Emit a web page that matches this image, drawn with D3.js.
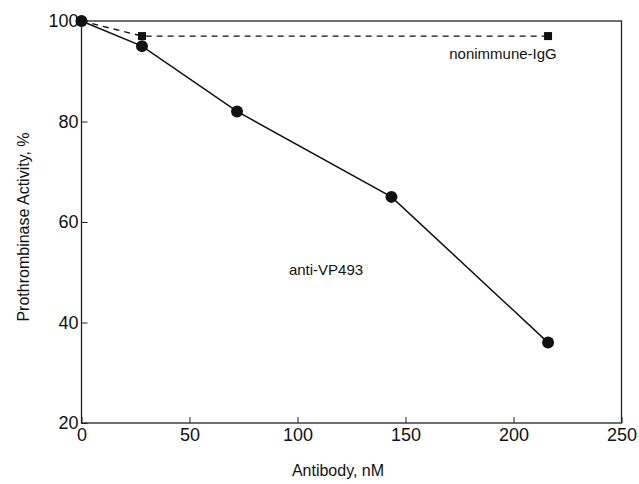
<!DOCTYPE html>
<html>
<head>
<meta charset="utf-8">
<script src="https://cdn.jsdelivr.net/npm/d3@7"></script>
<style>
  body { margin: 0; background: #fff; }
  svg { display: block; }
  text { font-family: "Liberation Sans", Arial, sans-serif; fill: #111; }
</style>
</head>
<body>
<svg id="chart" width="639" height="484"></svg>
<script>
// =======================
//  Data
// =======================

var antiDose = [0, 28, 72, 143.5, 216];
var antiActivity = [100, 95, 82, 65, 36];

var igDose = [0, 28, 216];
var igActivity = [100, 97, 97];

var xTicks = [0, 50, 100, 150, 200, 250];
var yTicks = [20, 40, 60, 80, 100];

// =======================
//  Layout
// =======================

var svg = d3.select("#chart");
// plot frame edges (window.top is reserved, so use own names)
var plotL = 81.5, plotR = 621.5, plotT = 21, plotB = 423;

var x = d3.scaleLinear().domain([0, 250]).range([plotL, plotR]);
var y = d3.scaleLinear().domain([20, 100]).range([plotB, plotT]);

// frame
svg.append("rect")
    .attr("x", plotL).attr("y", plotT)
    .attr("width", plotR - plotL).attr("height", plotB - plotT)
    .style("fill", "none").style("stroke", "#222").style("stroke-width", 1.3);

// axes with inward ticks
var xAxis = svg.append("g")
    .attr("transform", "translate(0," + plotB + ")")
    .call(d3.axisBottom(x).tickValues(xTicks).tickSizeInner(-6).tickSizeOuter(0).tickPadding(5));
xAxis.select(".domain").remove();
xAxis.selectAll("line").style("stroke", "#222");
xAxis.selectAll("text").style("font-size", "18px").style("fill", "#111")
    .attr("font-family", null);

var yAxis = svg.append("g")
    .attr("transform", "translate(" + plotL + ",0)")
    .call(d3.axisLeft(y).tickValues(yTicks).tickSizeInner(-6).tickSizeOuter(0).tickPadding(3));
yAxis.select(".domain").remove();
yAxis.selectAll("line").style("stroke", "#222");
yAxis.selectAll("text").style("font-size", "18px").style("fill", "#111")
    .attr("font-family", null);

// axis titles
svg.append("text")
    .attr("x", 338).attr("y", 476)
    .style("text-anchor", "middle").style("font-size", "16px")
    .text("Antibody, nM");

svg.append("text")
    .attr("transform", "translate(29,227) rotate(-90)")
    .style("text-anchor", "middle").style("font-size", "16px")
    .text("Prothrombinase Activity, %");

// =======================
//  Series
// =======================

var antiPts = antiDose.map((d, i) => [d, antiActivity[i]]);
var igPts = igDose.map((d, i) => [d, igActivity[i]]);

var line = d3.line().x(d => x(d[0])).y(d => y(d[1]));

svg.append("path")
    .datum(igPts)
    .attr("d", line)
    .style("fill", "none").style("stroke", "#111")
    .style("stroke-width", 1.4).style("stroke-dasharray", "6,5");

svg.append("path")
    .datum(antiPts)
    .attr("d", line)
    .style("fill", "none").style("stroke", "#111").style("stroke-width", 1.5);

svg.selectAll(".sq")
    .data(igPts.slice(1))
    .join("rect")
    .attr("class", "sq")
    .attr("x", d => x(d[0]) - 4)
    .attr("y", d => y(d[1]) - 4)
    .attr("width", 8).attr("height", 8)
    .style("fill", "#111");

svg.selectAll(".dot")
    .data(antiPts)
    .join("circle")
    .attr("class", "dot")
    .attr("cx", d => x(d[0]))
    .attr("cy", d => y(d[1]))
    .attr("r", 6)
    .style("fill", "#111");

// series labels
svg.append("text")
    .attr("x", 503).attr("y", 59)
    .style("text-anchor", "middle").style("font-size", "15px")
    .text("nonimmune-IgG");

svg.append("text")
    .attr("x", 326).attr("y", 275)
    .style("text-anchor", "middle").style("font-size", "15px")
    .text("anti-VP493");
</script>
</body>
</html>
